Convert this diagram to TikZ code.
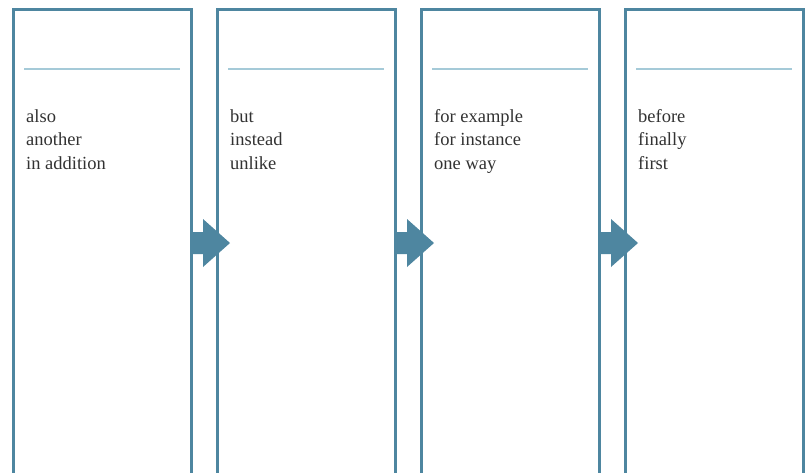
\documentclass[tikz,border=0pt]{standalone}
\usepackage{fontspec}
\setmainfont{Liberation Serif}
\usetikzlibrary{positioning,calc}
\definecolor{boxblue}{RGB}{78,134,160}
\definecolor{ruleblue}{RGB}{165,202,216}
\definecolor{wordgray}{RGB}{50,50,50}
\tikzset{
  column/.style={draw=boxblue, line width=3pt, minimum width=178pt, minimum height=480pt,
    inner sep=0pt, outer sep=0pt, anchor=north west},
  headrule/.style={draw=ruleblue, line width=1.6pt},
  words/.style={text=wordgray, font=\fontsize{18.5}{23.5}\selectfont, align=left,
    anchor=base west, inner sep=0pt},
  flow/.style={fill=boxblue}
}
\begin{document}
\begin{tikzpicture}[x=1pt, y=-1pt]
\useasboundingbox (0,0) rectangle (806,472);
\clip (0,0) rectangle (806,472);

\foreach \i/\list in {1/{also\\another\\in addition}, 2/{but\\instead\\unlike},
  3/{for example\\for instance\\one way}, 4/{before\\finally\\first}}
{
  \node[column] (col\i) at ({13+204*(\i-1)}, 9.5) {};
  \draw[headrule] ($(col\i.north west)+(11,59.5)$) -- ($(col\i.north east)+(-11,59.5)$);
  % base is the last line of the three
  \node[words] (txt\i) at ($(col\i.north west)+(13,159.5)$) {\list};
}

% block arrows between the columns
\foreach \i in {1,2,3}
{
  \fill[flow] ($(col\i.north east)+(0,222.5)$) -- ++(12,0) -- ++(0,-13) -- ++(27,24)
    -- ++(-27,24) -- ++(0,-13) -- ++(-12,0) -- cycle;
}
\end{tikzpicture}
\end{document}
